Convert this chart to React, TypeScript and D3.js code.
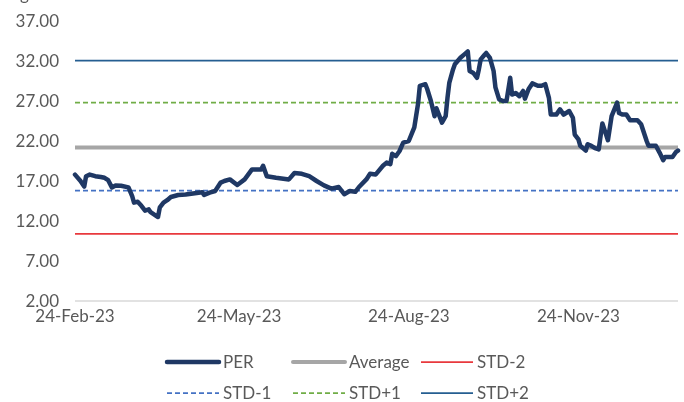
import React, { useEffect, useRef } from 'react';
import * as d3 from 'd3';

// PER readings (date, value)
const perDates = [
  '2023-02-24', '2023-02-27', '2023-03-01', '2023-03-02', '2023-03-04', '2023-03-07', '2023-03-10', '2023-03-12',
  '2023-03-14', '2023-03-16', '2023-03-18', '2023-03-21', '2023-03-25', '2023-03-27', '2023-03-28', '2023-03-30',
  '2023-04-01', '2023-04-03', '2023-04-05', '2023-04-06', '2023-04-08', '2023-04-10', '2023-04-11', '2023-04-13',
  '2023-04-15', '2023-04-17', '2023-04-21', '2023-04-25', '2023-04-28', '2023-05-01', '2023-05-04', '2023-05-05',
  '2023-05-08', '2023-05-11', '2023-05-14', '2023-05-16', '2023-05-19', '2023-05-23', '2023-05-27', '2023-05-31',
  '2023-06-05', '2023-06-06', '2023-06-08', '2023-06-13', '2023-06-20', '2023-06-23', '2023-06-27', '2023-07-01',
  '2023-07-05', '2023-07-09', '2023-07-13', '2023-07-17', '2023-07-20', '2023-07-23', '2023-07-26', '2023-07-28',
  '2023-08-01', '2023-08-03', '2023-08-06', '2023-08-10', '2023-08-12', '2023-08-14', '2023-08-15', '2023-08-17',
  '2023-08-19', '2023-08-21', '2023-08-24', '2023-08-27', '2023-08-29', '2023-08-30', '2023-09-02', '2023-09-03',
  '2023-09-05', '2023-09-07', '2023-09-08', '2023-09-11', '2023-09-13', '2023-09-14', '2023-09-15', '2023-09-17',
  '2023-09-18', '2023-09-21', '2023-09-23', '2023-09-25', '2023-09-26', '2023-09-28', '2023-09-30', '2023-10-01',
  '2023-10-02', '2023-10-04', '2023-10-05', '2023-10-07', '2023-10-09', '2023-10-10', '2023-10-12', '2023-10-14',
  '2023-10-16', '2023-10-18', '2023-10-19', '2023-10-21', '2023-10-23', '2023-10-25', '2023-10-26', '2023-10-28',
  '2023-10-30', '2023-11-02', '2023-11-04', '2023-11-06', '2023-11-08', '2023-11-09', '2023-11-12', '2023-11-14',
  '2023-11-16', '2023-11-19', '2023-11-21', '2023-11-22', '2023-11-24', '2023-11-25', '2023-11-28', '2023-11-29',
  '2023-12-01', '2023-12-03', '2023-12-05', '2023-12-06', '2023-12-07', '2023-12-09', '2023-12-10', '2023-12-12',
  '2023-12-15', '2023-12-16', '2023-12-18', '2023-12-20', '2023-12-22', '2023-12-26', '2023-12-28', '2023-12-31',
  '2024-01-01', '2024-01-05', '2024-01-07', '2024-01-09', '2024-01-10', '2024-01-14', '2024-01-16', '2024-01-17',
];

const perValues = [
  17.8, 17.0, 16.3, 17.6, 17.8, 17.6, 17.5, 17.4,
  17.1, 16.2, 16.45, 16.4, 16.2, 15.1, 14.3, 14.4,
  13.9, 13.3, 13.45, 13.1, 12.8, 12.5, 13.7, 14.3,
  14.6, 15.0, 15.25, 15.3, 15.4, 15.5, 15.6, 15.25,
  15.55, 15.75, 16.8, 17.0, 17.2, 16.5, 17.2, 18.45,
  18.45, 18.9, 17.6, 17.4, 17.2, 18.0, 17.9, 17.6,
  17.0, 16.45, 16.05, 16.25, 15.35, 15.75, 15.65, 16.25,
  17.2, 17.9, 17.8, 18.9, 19.3, 19.1, 20.4, 20.1,
  20.75, 21.8, 22.0, 23.7, 26.6, 28.9, 29.1, 28.5,
  27.0, 25.1, 26.1, 24.3, 25.1, 27.4, 29.3, 30.95,
  31.6, 32.4, 32.8, 33.2, 30.75, 30.5, 29.9, 30.95,
  32.2, 32.75, 33.0, 32.4, 30.75, 28.7, 27.2, 27.0,
  27.0, 29.9, 27.8, 28.0, 27.6, 28.25, 27.3, 28.5,
  29.2, 28.9, 28.9, 29.1, 27.4, 25.3, 25.3, 25.95,
  25.3, 25.75, 24.9, 22.8, 22.2, 21.4, 20.8, 21.6,
  21.4, 21.1, 20.95, 22.6, 24.2, 22.8, 22.1, 25.1,
  26.8, 25.5, 25.3, 25.3, 24.6, 24.6, 24.1, 22.0,
  21.4, 21.4, 20.55, 19.6, 20.0, 20.0, 20.65, 20.8,
];

// Horizontal reference levels
const refNames = ['Average', 'STD-2', 'STD-1', 'STD+1', 'STD+2'];
const refValues = [21.2, 10.38, 15.79, 26.79, 32.04];

const yTicks = [2, 7, 12, 17, 22, 27, 32, 37];
const xTickDates = ['2023-02-24', '2023-05-24', '2023-08-24', '2023-11-24'];

// Legend order as in the chart
const legendNames = ['PER', 'Average', 'STD-2', 'STD-1', 'STD+1', 'STD+2'];

const styles: Record<string, { color: string; width: number; dash: string | null }> = {
  PER: { color: '#1f3864', width: 4.5, dash: null },
  Average: { color: '#a6a6a6', width: 4, dash: null },
  'STD-2': { color: '#e8383d', width: 1.75, dash: null },
  'STD-1': { color: '#4472c4', width: 1.75, dash: '5,3' },
  'STD+1': { color: '#70ad47', width: 1.75, dash: '5,3' },
  'STD+2': { color: '#255e91', width: 1.75, dash: null },
};

const App = () => {
  const svgRef = useRef<SVGSVGElement>(null);

  useEffect(() => {
    const width = 684;
    const height = 402;
    const font = 'Lato, "Open Sans", sans-serif';
    const textColor = '#595959';

    const svg = d3.select(svgRef.current);
    svg.selectAll('*').remove();
    svg.attr('width', width).attr('height', height);

    const parse = d3.utcParse('%Y-%m-%d');
    const data = perDates.map((d, i) => ({ date: parse(d) as Date, value: perValues[i] }));

    // Plot area
    const left = 75;
    const right = 678;
    const top = 21;
    const bottom = 301;

    const x = d3.scaleUtc()
      .domain([parse('2023-02-24') as Date, parse('2024-01-17') as Date])
      .range([left, right]);
    const y = d3.scaleLinear().domain([2, 37]).range([bottom, top]);

    // Cut-off title descender at the very top
    svg.append('text')
      .attr('x', 20)
      .attr('y', 0)
      .attr('font-family', font)
      .attr('font-size', 17)
      .attr('fill', textColor)
      .text('g');

    // Y axis labels
    svg.append('g')
      .selectAll('text')
      .data(yTicks)
      .enter()
      .append('text')
      .attr('x', 59)
      .attr('y', d => y(d))
      .attr('dy', '0.35em')
      .attr('text-anchor', 'end')
      .attr('font-family', font)
      .attr('font-size', 17)
      .attr('fill', textColor)
      .text(d => d.toFixed(2));

    // Baseline
    svg.append('line')
      .attr('x1', left)
      .attr('x2', right)
      .attr('y1', y(2))
      .attr('y2', y(2))
      .attr('stroke', '#d9d9d9')
      .attr('stroke-width', 1.5);

    // X axis labels
    const fmt = d3.utcFormat('%d-%b-%y');
    svg.append('g')
      .selectAll('text')
      .data(xTickDates.map(d => parse(d) as Date))
      .enter()
      .append('text')
      .attr('x', d => x(d))
      .attr('y', 322)
      .attr('text-anchor', 'middle')
      .attr('font-family', font)
      .attr('font-size', 17)
      .attr('fill', textColor)
      .text(d => fmt(d));

    // Reference lines (average drawn under the others)
    refNames.forEach((name, i) => {
      const s = styles[name];
      svg.append('line')
        .attr('x1', left)
        .attr('x2', right)
        .attr('y1', y(refValues[i]))
        .attr('y2', y(refValues[i]))
        .attr('stroke', s.color)
        .attr('stroke-width', s.width)
        .attr('stroke-dasharray', s.dash);
    });

    // PER line
    const line = d3.line<{ date: Date; value: number }>()
      .x(d => x(d.date))
      .y(d => y(d.value));

    svg.append('path')
      .datum(data)
      .attr('d', line)
      .attr('fill', 'none')
      .attr('stroke', styles.PER.color)
      .attr('stroke-width', styles.PER.width)
      .attr('stroke-linejoin', 'round')
      .attr('stroke-linecap', 'round');

    // Legend: 3 columns x 2 rows
    const colX = [167, 293, 421];
    const rowY = [362, 393];
    const legend = svg.selectAll('.legend')
      .data(legendNames)
      .enter()
      .append('g')
      .attr('class', 'legend')
      .attr('transform', (d, i) => `translate(${colX[i % 3]},${rowY[Math.floor(i / 3)]})`);

    legend.append('line')
      .attr('x1', 0)
      .attr('x2', 52)
      .attr('stroke', d => styles[d].color)
      .attr('stroke-width', d => styles[d].width)
      .attr('stroke-linecap', d => (styles[d].width > 3 ? 'round' : 'butt'))
      .attr('stroke-dasharray', d => styles[d].dash);

    legend.append('text')
      .attr('x', 56)
      .attr('dy', '0.35em')
      .attr('font-family', font)
      .attr('font-size', 17)
      .attr('fill', textColor)
      .text(d => d);
  }, []);

  return (
    <div style={{ position: 'fixed', left: 0, top: 0 }}>
      <svg ref={svgRef} style={{ display: 'block' }}></svg>
    </div>
  );
};

export default App;
